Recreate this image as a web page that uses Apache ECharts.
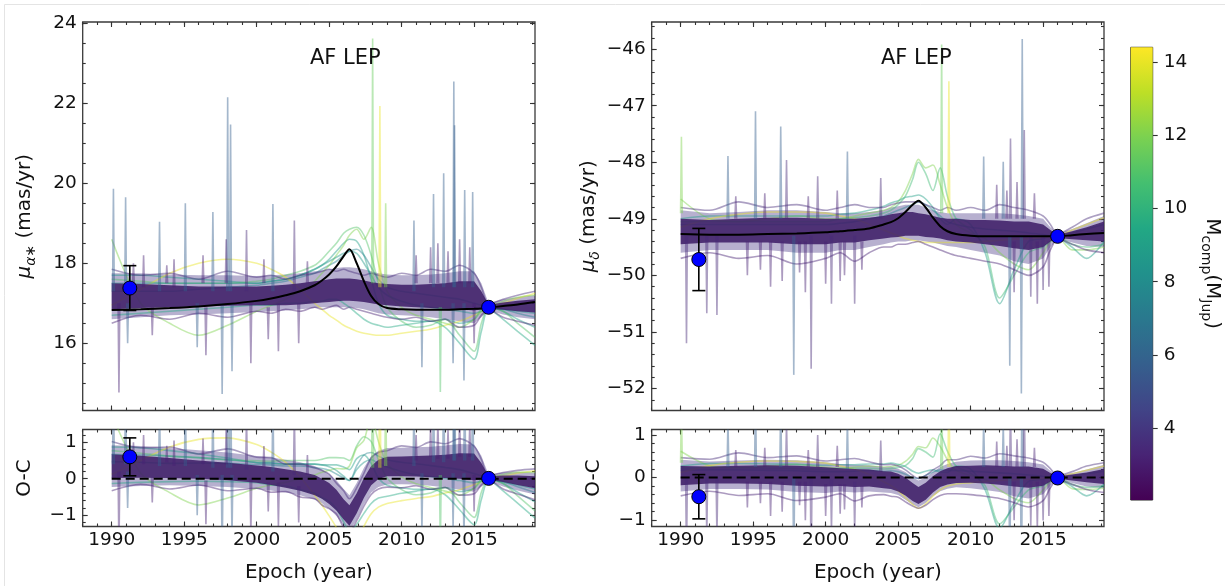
<!DOCTYPE html>
<html><head><meta charset="utf-8">
<script src="https://cdn.jsdelivr.net/npm/echarts@6/dist/echarts.min.js"></script>
<style>html,body{margin:0;padding:0;background:#fff}#c{width:1225px;height:586px}</style>
</head><body><div id="c"></div>
<script>
// ================= DATA =================
const epochs = [1990,1992,1994,1996,1998,2000,2001,2002,2003,2004,2004.5,2005,2005.5,2006,2006.4,2006.9,2007.4,2007.9,2008.4,2009,2010,2011,2012,2013,2014,2015,2015.5,2016,2017,2018,2019.2];

// best-fit model (black curves)
const modelRA  = [16.83,16.85,16.88,16.92,16.98,17.06,17.12,17.2,17.3,17.45,17.57,17.72,17.92,18.18,18.35,18.0,17.55,17.18,16.98,16.88,16.85,16.84,16.84,16.84,16.85,16.86,16.87,16.89,16.93,16.97,17.03];
const modelDec = [-49.27,-49.28,-49.28,-49.27,-49.26,-49.24,-49.22,-49.2,-49.17,-49.1,-49.06,-48.99,-48.88,-48.75,-48.68,-48.8,-48.98,-49.13,-49.22,-49.27,-49.3,-49.31,-49.31,-49.31,-49.31,-49.31,-49.31,-49.31,-49.29,-49.27,-49.25];

// envelope of the dense (low-mass, purple) posterior draws
const raOuterHi = [17.75,17.75,17.72,17.7,17.7,17.68,17.7,17.72,17.75,17.8,17.82,17.85,17.88,17.9,17.9,17.88,17.85,17.8,17.75,17.72,17.7,17.7,17.72,17.75,17.8,17.8,17.5,17.0,17.1,17.15,17.2];
const raOuterLo = [16.6,16.65,16.7,16.72,16.75,16.78,16.8,16.82,16.85,16.88,16.9,16.9,16.9,16.9,16.9,16.88,16.85,16.8,16.75,16.72,16.7,16.68,16.65,16.6,16.55,16.5,16.65,16.82,16.72,16.65,16.6];
const raInnerHi = [17.5,17.48,17.45,17.42,17.42,17.42,17.44,17.46,17.5,17.55,17.57,17.6,17.62,17.62,17.62,17.6,17.57,17.53,17.5,17.48,17.46,17.46,17.48,17.5,17.55,17.55,17.3,16.96,17.02,17.06,17.1];
const raInnerLo = [16.85,16.88,16.9,16.92,16.94,16.95,16.95,16.95,16.97,17.0,17.02,17.03,17.05,17.06,17.06,17.05,17.03,17.0,16.97,16.95,16.92,16.9,16.88,16.86,16.85,16.82,16.85,16.86,16.84,16.8,16.77];

const decOuterHi = [-48.85,-48.9,-48.88,-48.85,-48.85,-48.88,-48.9,-48.9,-48.88,-48.85,-48.8,-48.78,-48.75,-48.75,-48.75,-48.8,-48.85,-48.88,-48.9,-48.9,-48.9,-48.9,-48.9,-48.92,-48.95,-49.0,-49.15,-49.27,-49.18,-49.08,-48.95];
const decOuterLo = [-49.6,-49.55,-49.55,-49.55,-49.6,-49.6,-49.55,-49.55,-49.5,-49.45,-49.42,-49.4,-49.4,-49.38,-49.38,-49.4,-49.42,-49.45,-49.48,-49.5,-49.55,-49.6,-49.65,-49.75,-49.8,-49.7,-49.5,-49.36,-49.42,-49.48,-49.5];
const decInnerHi = [-49.0,-49.02,-49.0,-48.98,-48.98,-49.0,-49.0,-49.0,-48.98,-48.95,-48.92,-48.9,-48.88,-48.88,-48.9,-48.92,-48.95,-48.98,-49.0,-49.0,-49.02,-49.02,-49.03,-49.05,-49.05,-49.1,-49.2,-49.28,-49.22,-49.15,-49.05];
const decInnerLo = [-49.45,-49.42,-49.42,-49.42,-49.45,-49.45,-49.42,-49.42,-49.38,-49.35,-49.33,-49.32,-49.3,-49.3,-49.3,-49.32,-49.33,-49.35,-49.38,-49.4,-49.42,-49.45,-49.48,-49.52,-49.55,-49.5,-49.4,-49.34,-49.36,-49.38,-49.4];

// individual draws (mu_alpha*)
const raTeal       = [17.7,17.7,17.65,17.6,17.55,17.5,17.55,17.6,17.7,17.85,17.95,18.1,18.3,18.5,18.6,18.55,18.2,17.6,17.0,16.7,16.6,16.55,16.55,16.6,16.5,16.6,16.85,16.9,16.8,16.6,16.4];
const raGreen      = [17.6,17.55,17.5,17.5,17.5,17.55,17.6,17.7,17.8,17.95,18.1,18.3,18.5,18.75,18.85,18.9,18.7,18.2,17.5,16.9,16.55,16.4,16.45,16.6,16.2,15.8,16.5,16.88,16.8,16.5,16.15];
const raTealBlue   = [17.3,17.3,17.3,17.35,17.4,17.45,17.5,17.55,17.65,17.75,17.85,17.95,18.05,18.2,18.3,18.35,18.2,17.9,17.6,17.4,17.3,17.25,17.2,17.15,17.1,17.0,16.95,16.9,16.85,16.75,16.65];
const raYellow     = [16.95,17.35,17.75,18.0,18.1,18.0,17.85,17.65,17.35,17.0,16.85,16.7,16.58,16.45,16.38,16.3,16.25,16.22,16.2,16.2,16.25,16.3,16.35,16.45,16.55,16.7,16.8,16.9,17.0,17.12,17.25];
const raLightGreen = [18.6,17.0,16.5,16.2,16.45,16.8,16.95,17.1,17.3,17.55,17.75,17.95,18.2,18.45,18.7,18.85,18.6,18.9,18.0,17.3,16.9,16.7,16.6,16.5,16.4,16.6,16.8,16.9,17.05,17.15,17.2];
const raTealLow    = [16.7,16.75,16.8,16.85,16.9,16.95,16.95,17.0,17.0,17.05,17.05,17.1,17.1,17.0,16.9,16.75,16.6,16.5,16.45,16.4,16.45,16.5,16.55,16.4,16.0,15.6,16.3,16.85,16.6,16.3,15.95];
const raTeal2      = [17.5,17.5,17.5,17.5,17.5,17.5,17.55,17.6,17.7,17.85,17.95,18.05,18.15,18.25,18.3,18.25,18.0,17.7,17.4,17.2,17.05,16.95,16.9,16.85,16.8,16.75,16.8,16.88,16.85,16.8,16.75];
const raPurpleA    = [17.85,17.7,17.75,17.6,17.8,17.65,17.7,17.6,17.7,17.75,17.8,17.85,17.8,17.85,17.8,17.75,17.7,17.75,17.7,17.65,17.75,17.7,17.85,17.8,17.95,17.75,17.4,16.98,17.1,17.2,17.3];
const raPurpleB    = [16.5,16.7,16.6,16.75,16.65,16.8,16.75,16.85,16.8,16.9,16.85,16.9,16.95,16.85,16.9,16.85,16.8,16.75,16.7,16.65,16.6,16.65,16.55,16.6,16.4,16.45,16.7,16.84,16.65,16.55,16.45];
const raLineMass   = [9, 11, 7.5, 14, 12, 9.5, 8.5, 3.6, 3.2];

// individual draws (mu_delta)
const decLightGreen = [-48.65,-49.0,-49.05,-49.0,-48.95,-49.0,-49.0,-48.95,-48.9,-48.85,-48.8,-48.7,-48.5,-48.2,-47.95,-48.1,-48.05,-48.4,-48.8,-49.1,-49.25,-49.35,-49.6,-49.8,-49.9,-49.6,-49.4,-49.33,-49.55,-49.55,-49.5];
const decTeal       = [-49.0,-48.95,-48.95,-48.95,-48.95,-48.95,-48.92,-48.9,-48.85,-48.78,-48.72,-48.68,-48.62,-48.6,-48.58,-48.65,-48.8,-49.0,-49.1,-49.0,-49.1,-49.6,-50.5,-49.9,-49.4,-49.35,-49.3,-49.32,-49.5,-49.7,-49.4];
const decTealBlue   = [-49.1,-49.1,-49.1,-49.1,-49.1,-49.1,-49.08,-49.05,-49.0,-48.95,-48.9,-48.85,-48.8,-48.75,-48.7,-48.75,-48.85,-48.95,-49.05,-49.1,-49.15,-49.18,-49.2,-49.22,-49.25,-49.28,-49.3,-49.3,-49.25,-49.18,-49.1];
const decYellow     = [-49.15,-49.0,-48.92,-48.88,-48.88,-48.9,-48.95,-49.0,-49.1,-49.2,-49.25,-49.3,-49.35,-49.38,-49.4,-49.42,-49.42,-49.42,-49.42,-49.42,-49.42,-49.4,-49.38,-49.36,-49.35,-49.33,-49.32,-49.31,-49.2,-49.1,-48.98];
const decGreen      = [-49.05,-49.05,-49.05,-49.05,-49.05,-49.05,-49.0,-48.98,-48.95,-48.9,-48.85,-48.75,-48.6,-48.3,-48.0,-48.2,-48.5,-48.1,-48.6,-49.0,-49.2,-49.5,-50.4,-50.0,-49.6,-49.5,-49.4,-49.32,-49.45,-49.5,-49.45];
const decPurpleA    = [-48.8,-48.85,-48.7,-48.8,-48.75,-48.85,-48.8,-48.75,-48.8,-48.8,-48.75,-48.72,-48.7,-48.7,-48.7,-48.75,-48.8,-48.85,-48.8,-48.85,-48.8,-48.85,-48.75,-48.8,-48.85,-48.95,-49.1,-49.27,-49.15,-49.0,-48.9];
const decPurpleB    = [-49.7,-49.6,-49.7,-49.65,-49.8,-49.7,-49.6,-49.75,-49.6,-49.5,-49.5,-49.45,-49.45,-49.42,-49.4,-49.45,-49.5,-49.55,-49.6,-49.65,-49.7,-49.75,-49.8,-49.9,-50.0,-49.85,-49.55,-49.36,-49.45,-49.55,-49.6];
const decLineMass   = [12, 9, 7.5, 14, 10.5, 3.6, 3.2];

// narrow excursions (periastron spikes): [epoch, base, extreme, mass, O-C base]
const spikesRA = [
 [1990.12,17.3,19.86,5.8,0.4],[1990.5,17.0,14.77,3.2,0.2],[1990.96,17.3,19.65,5.8,0.4],[1991.1,17.0,16.0,5.8,0.2],
 [1993.3,17.3,19.04,5.8,0.35],[1995.08,17.3,19.5,5.8,0.35],[1995.9,17.0,15.9,5.8,0.1],[1996.98,17.3,19.28,5.8,0.3],
 [1997.62,17.0,14.73,5.8,0.1],[1998.0,17.3,22.15,5.8,0.3],[1998.2,17.3,21.47,5.8,0.3],[1998.3,17.0,15.3,5.8,0.1],
 [1999.3,17.3,18.83,3.5,0.25],[1999.6,17.0,15.5,3.2,0.0],[2001.12,17.3,19.48,5.8,0.2],[2001.5,17.0,15.8,3.2,-0.1],
 [2002.6,17.3,19.07,3.5,0.1],[2002.9,17.0,16.0,3.2,-0.2],[2008.0,17.5,23.62,11.5,0.3],[2008.5,17.4,21.93,14,0.3],
 [2008.9,17.4,19.5,12,0.35],[2010.85,17.3,19.07,5.8,0.35],[2011.4,17.0,15.4,5.8,0.15],[2012.2,17.4,19.73,5.8,0.45],
 [2012.67,16.9,14.78,11,0.1],[2012.9,17.4,20.25,5.8,0.45],[2013.55,17.0,15.5,5.8,0.15],[2013.6,17.4,22.54,5.8,0.5],
 [2013.65,17.4,21.45,5.8,0.5],[2014.3,17.0,15.07,5.8,0.15],[2014.35,17.4,19.83,5.8,0.5],[2014.9,17.4,19.78,5.8,0.5],
 [2015.0,17.0,16.0,3.2,0.1],[1992.2,17.4,18.2,3.2,0.4],[1994.3,17.4,18.1,3.2,0.35],[2012.0,17.5,18.4,3.2,0.6],[2014.0,17.5,18.6,3.2,0.6],
 [1991.5,17.5,18.0,3.2,0.5],[1993.8,17.5,17.95,3.2,0.45],[1996.3,17.5,18.2,3.2,0.4],[1997.9,17.5,18.6,3.2,0.4],[2000.5,17.5,18.1,3.2,0.3],
 [2003.5,17.5,18.05,3.2,0.1],[2011.0,17.5,18.2,3.2,0.5],[2012.5,17.5,18.5,3.2,0.55],[2013.2,17.5,18.3,3.2,0.55],[2014.7,17.5,18.4,3.2,0.6],
 [1992.8,16.9,16.2,3.2,0.05],[1996.5,16.9,15.7,3.2,-0.05],[2000.8,16.9,16.1,3.2,-0.1]
];
const spikesDec = [
 [1990.05,-48.9,-47.55,12,0.35],[1990.4,-49.3,-51.2,3.5,0.0],[1991.8,-49.3,-50.67,3.5,0.0],[1992.5,-49.3,-50.7,3.5,0.0],
 [1993.26,-49.0,-47.89,5.8,0.25],[1995.16,-49.0,-47.1,5.8,0.25],[1996.9,-49.0,-47.37,5.8,0.25],[1997.3,-49.0,-47.96,3.5,0.25],
 [1997.8,-49.3,-51.76,5.8,0.0],[1999.0,-49.3,-51.65,3.5,0.0],[1999.45,-49.0,-48.25,3.5,0.25],[2000.4,-49.3,-50.5,3.5,-0.05],
 [2001.5,-49.0,-47.81,5.8,0.2],[2002.0,-49.3,-50.5,3.5,-0.1],[2003.8,-49.0,-48.28,3.5,0.15],[2008.0,-48.9,-45.92,11.5,0.2],
 [2008.5,-48.9,-46.57,14,0.25],[2010.9,-49.0,-47.9,5.8,0.25],[2012.25,-49.0,-47.99,5.8,0.25],[2012.7,-49.3,-51.6,5.8,0.0],
 [2012.75,-49.0,-47.58,3.5,0.25],[2013.5,-49.3,-52.09,5.8,0.0],[2013.56,-49.0,-45.82,5.8,0.25],[2013.7,-49.0,-47.43,3.5,0.25],
 [2014.15,-49.3,-50.38,3.5,-0.05],[2015.0,-49.3,-50.26,3.5,-0.05],[1994.6,-49.4,-50.0,3.2,-0.1],[1996.2,-49.4,-50.2,3.2,-0.1],
 [1998.6,-49.4,-50.3,3.2,-0.1],[2001.0,-49.4,-50.1,3.2,-0.15],[2014.6,-49.4,-50.5,3.2,-0.1],[2011.8,-49.0,-48.4,3.2,0.25],
 [1995.5,-49.4,-49.9,3.2,-0.1],[1997.0,-49.4,-50.1,3.2,-0.1],[1998.2,-49.4,-49.95,3.2,-0.1],[2000.0,-49.4,-50.15,3.2,-0.15],
 [2001.3,-49.4,-50.0,3.2,-0.15],[2002.5,-49.4,-49.9,3.2,-0.2],[2013.0,-49.4,-50.3,3.2,-0.1],[2015.4,-49.4,-50.2,3.2,-0.1],
 [1993.8,-49.0,-48.6,3.2,0.25],[1995.8,-49.0,-48.55,3.2,0.25],[1998.8,-49.0,-48.6,3.2,0.25],[2000.8,-49.0,-48.5,3.2,0.25],
 [2012.5,-49.0,-48.5,3.2,0.25],[2013.2,-49.0,-48.35,3.2,0.25],[2014.4,-49.0,-48.55,3.2,0.25]
];

// measurements: Hipparcos (1991.25) and Gaia (2016.0)
const obsEpochs = [1991.25, 2016.0];
const raObs  = [17.38, 16.90];   const raErr  = [0.56, 0.0];
const decObs = [-49.72, -49.31]; const decErr = [0.55, 0.0];
const raOC   = [0.60, 0.01];     const raOCErr  = [0.52, 0.0];
const decOC  = [-0.45, -0.01];   const decOCErr = [0.52, 0.0];

// axes ticks
const xMajorTicks = [1990,1995,2000,2005,2010,2015];
const raTicks  = [16,18,20,22,24];
const decTicks = [-52,-51,-50,-49,-48,-47,-46];
const ocTicks  = [-1,0,1];
const cbTicks  = [4,6,8,10,12,14];
const CB_MIN = 2.04, CB_MAX = 14.4;
const X_MIN = 1988, X_MAX = 2019.2;

// ================= helpers =================
function range(a, b, s){ const r=[]; for(let v=a; v<=b+1e-9; v+=s) r.push(Math.round(v*1000)/1000); return r; }
const xMinorTicks = range(1988, 2019, 1);
const raMinor  = range(14.5, 24, 0.5);
const decMinor = range(-52.2, -45.6, 0.2);
const ocMinor  = range(-1.2, 1.2, 0.2);

const VIR = ['#440154','#482475','#414487','#355f8d','#2a788e','#21918c','#22a884','#44bf70','#7ad151','#bddf26','#fde725'];
function hex2rgb(h){ return [parseInt(h.slice(1,3),16),parseInt(h.slice(3,5),16),parseInt(h.slice(5,7),16)]; }
function cmap(m){
  let t = (m - CB_MIN)/(CB_MAX - CB_MIN); t = Math.max(0, Math.min(1, t));
  const f = t*10, i = Math.min(9, Math.floor(f)), r = f - i;
  const a = hex2rgb(VIR[i]), b = hex2rgb(VIR[i+1]);
  return 'rgb(' + a.map((v,k)=>Math.round(v + (b[k]-v)*r)).join(',') + ')';
}
function fmt(v){ return (v < 0 ? '\u2212' : '') + Math.abs(v); }
const FONT = 'DejaVu Sans';
const TICKC = '#333';
const LABEL_FS = 18.5;

const grids = [
  {left:82.7, top:22, width:452.3, height:388.5},
  {left:82.7, top:429.5, width:452.3, height:97},
  {left:651.7, top:22, width:452.3, height:388.5},
  {left:651.7, top:429.5, width:452.3, height:97},
  {left:1130.7, top:47.3, width:22, height:452.7}
].map((g,i)=>Object.assign({show:true, backgroundColor:'transparent', borderColor: i===4 ? '#222' : '#3a3a3a', borderWidth: i===4 ? 1 : 1.3, outerBoundsMode:'none', containLabel:false}, g));

const xAxes = [], yAxes = [], xIdx = [], yIdx = [];
function tickAxis(g, pos, min, max, ticks, len, label){
  return {type:'value', gridIndex:g, position:pos, min:min, max:max,
    axisLine:{show:false, onZero:false}, splitLine:{show:false},
    axisTick:{show:true, inside:true, length:len, customValues:ticks, lineStyle:{color:TICKC, width:1.1}},
    axisLabel:{show:!!label, customValues:ticks, formatter:fmt, fontSize:LABEL_FS, color:'#111', fontFamily:FONT, margin:6}};
}
const yNameRich = {
  i:{fontStyle:'italic', fontSize:20, fontFamily:FONT, color:'#111', lineHeight:28},
  s:{fontStyle:'italic', fontSize:14, fontFamily:FONT, color:'#111', lineHeight:28, verticalAlign:'bottom'},
  n:{fontSize:20, fontFamily:FONT, color:'#111', lineHeight:28}
};
function panel(g, yMin, yMax, yMajor, yMinor, bottomLabels, yName){
  xIdx[g] = xAxes.length;
  const xm = tickAxis(g, 'bottom', X_MIN, X_MAX, xMajorTicks, 5, bottomLabels);
  xm.axisLabel.margin = 4;
  if (bottomLabels){ Object.assign(xm, {name:'Epoch (year)', nameLocation:'middle', nameGap:36, nameTextStyle:{fontSize:20, fontFamily:FONT, color:'#111'}}); }
  xAxes.push(xm);
  xAxes.push(tickAxis(g, 'bottom', X_MIN, X_MAX, xMinorTicks, 3, false));
  xAxes.push(tickAxis(g, 'top', X_MIN, X_MAX, xMajorTicks, 5, false));
  xAxes.push(tickAxis(g, 'top', X_MIN, X_MAX, xMinorTicks, 3, false));
  yIdx[g] = yAxes.length;
  const ym = tickAxis(g, 'left', yMin, yMax, yMajor, 5, true);
  Object.assign(ym, {name:yName, nameLocation:'middle', nameGap:44, nameRotate:90, nameTextStyle:{rich:yNameRich, fontSize:20, fontFamily:FONT, color:'#111'}});
  yAxes.push(ym);
  yAxes.push(tickAxis(g, 'left', yMin, yMax, yMinor, 3, false));
  yAxes.push(tickAxis(g, 'right', yMin, yMax, yMajor, 5, false));
  yAxes.push(tickAxis(g, 'right', yMin, yMax, yMinor, 3, false));
}
panel(0, 14.32, 24.03, raTicks, raMinor, false, '{i|μ}{s|α∗}{n| (mas/yr)}');
panel(1, -1.31, 1.35, ocTicks, ocMinor, true, '{n|O-C}');
panel(2, -52.39, -45.52, decTicks, decMinor, false, '{i|μ}{s|δ}{n| (mas/yr)}');
panel(3, -1.15, 1.13, ocTicks, ocMinor, true, '{n|O-C}');

// colorbar axes
xIdx[4] = xAxes.length;
xAxes.push({type:'value', gridIndex:4, min:0, max:1, show:false});
yIdx[4] = yAxes.length;
yAxes.push({type:'value', gridIndex:4, position:'right', min:CB_MIN, max:CB_MAX,
  axisLine:{show:false, onZero:false}, splitLine:{show:false},
  axisTick:{show:true, inside:false, length:5, customValues:cbTicks, lineStyle:{color:TICKC, width:1.1}},
  axisLabel:{show:true, customValues:cbTicks, formatter:fmt, fontSize:LABEL_FS, color:'#111', fontFamily:FONT, margin:11},
  name:'{n|M}{s|comp}{n|(M}{s|Jup}{n|)}', nameLocation:'middle', nameRotate:-90, nameGap:46,
  nameTextStyle:{fontSize:20, fontFamily:FONT, color:'#111', rich:{
    n:{fontSize:20, fontFamily:FONT, color:'#111', lineHeight:28},
    s:{fontSize:14, fontFamily:FONT, color:'#111', lineHeight:28, verticalAlign:'bottom'}}}
});

// ================= series =================
const series = [];
const sub = (arr, model) => arr.map((v,i)=>v - model[i]);

function band(g, lo, hi, color, op, z){
  series.push({type:'custom', xAxisIndex:xIdx[g], yAxisIndex:yIdx[g], clip:true, z:z, silent:true,
    data:[[epochs[0], lo[0]]],
    renderItem:(p, api)=>{
      const pts = [];
      for (let i=0;i<epochs.length;i++) pts.push(api.coord([epochs[i], hi[i]]));
      for (let i=epochs.length-1;i>=0;i--) pts.push(api.coord([epochs[i], lo[i]]));
      return {type:'polygon', shape:{points:pts}, style:{fill:color, opacity:op}};
    }});
}
function line(g, ys, color, width, op, z, smooth, dash){
  series.push({type:'line', xAxisIndex:xIdx[g], yAxisIndex:yIdx[g], silent:true, z:z, symbol:'none',
    smooth:smooth, clip:true, data:epochs.map((x,i)=>[x, ys[i]]),
    lineStyle:{color:color, width:width, opacity:op, type:dash||'solid'}});
}
function spikes(g, items, z){
  series.push({type:'custom', xAxisIndex:xIdx[g], yAxisIndex:yIdx[g], clip:true, z:z, silent:true,
    dimensions:['x','b','t','m'], encode:{x:0, y:[1,2]}, data:items,
    renderItem:(p, api)=>{
      const x = api.value(0), b = api.value(1), t = api.value(2), m = api.value(3);
      const pts = [api.coord([x-0.06, b]), api.coord([x, t]), api.coord([x+0.06, b])];
      return {type:'polyline', shape:{points:pts}, style:{stroke:cmap(m), lineWidth:1.6, opacity:0.45, fill:null}};
    }});
}
function obs(g, xs, ys, errs){
  series.push({type:'custom', xAxisIndex:xIdx[g], yAxisIndex:yIdx[g], z:9, silent:true, clip:false,
    data:xs.map((x,i)=>[x, ys[i], errs[i]]),
    renderItem:(p, api)=>{
      const x = api.value(0), y = api.value(1), e = api.value(2);
      if (!e) return null;
      const a = api.coord([x, y+e]), b = api.coord([x, y-e]);
      const st = {stroke:'#000', lineWidth:1.6};
      return {type:'group', children:[
        {type:'line', shape:{x1:a[0], y1:a[1], x2:b[0], y2:b[1]}, style:st},
        {type:'line', shape:{x1:a[0]-6.5, y1:a[1], x2:a[0]+6.5, y2:a[1]}, style:st},
        {type:'line', shape:{x1:b[0]-6.5, y1:b[1], x2:b[0]+6.5, y2:b[1]}, style:st}]};
    }});
  series.push({type:'scatter', xAxisIndex:xIdx[g], yAxisIndex:yIdx[g], z:10, silent:true,
    data:xs.map((x,i)=>[x, ys[i]]), symbolSize:14,
    itemStyle:{color:'#0000ff', borderColor:'#000', borderWidth:1, opacity:1}});
}

const raLines  = [raTeal, raGreen, raTealBlue, raYellow, raLightGreen, raTealLow, raTeal2, raPurpleA, raPurpleB];
const decLines = [decLightGreen, decTeal, decTealBlue, decYellow, decGreen, decPurpleA, decPurpleB];

function fillPanels(gTop, gOC, model, oLo, oHi, iLo, iHi, lines, masses, spk, obsY, obsE, ocY, ocE){
  // top panel
  band(gTop, oLo, oHi, '#4b3a86', 0.4, 1);
  lines.forEach((l,k)=>line(gTop, l, cmap(masses[k]), 1.6, 0.45, 2, 0.3));
  band(gTop, iLo, iHi, '#3d1c66', 0.86, 3);
  spikes(gTop, spk.map(s=>[s[0], s[1], s[2], s[3]]), 4);
  line(gTop, model, '#000', 2, 1, 6, 0.3);
  obs(gTop, obsEpochs, obsY, obsE);
  // O-C panel
  band(gOC, sub(oLo, model), sub(oHi, model), '#4b3a86', 0.4, 1);
  lines.forEach((l,k)=>line(gOC, sub(l, model), cmap(masses[k]), 1.6, 0.45, 2, 0.3));
  band(gOC, sub(iLo, model), sub(iHi, model), '#3d1c66', 0.86, 3);
  spikes(gOC, spk.map(s=>[s[0], s[4], s[4] + (s[2]-s[1]), s[3]]), 4);
  series.push({type:'line', xAxisIndex:xIdx[gOC], yAxisIndex:yIdx[gOC], z:6, silent:true, symbol:'none',
    data:[[epochs[0],0],[epochs[epochs.length-1],0]], lineStyle:{color:'#000', width:2, type:[9,5]}});
  obs(gOC, obsEpochs, ocY, ocE);
}
fillPanels(0, 1, modelRA, raOuterLo, raOuterHi, raInnerLo, raInnerHi, raLines, raLineMass, spikesRA, raObs, raErr, raOC, raOCErr);
fillPanels(2, 3, modelDec, decOuterLo, decOuterHi, decInnerLo, decInnerHi, decLines, decLineMass, spikesDec, decObs, decErr, decOC, decOCErr);

// colorbar gradient
series.push({type:'custom', xAxisIndex:xIdx[4], yAxisIndex:yIdx[4], silent:true, z:1,
  data:[[0, CB_MIN]],
  renderItem:(p, api)=>{
    const a = api.coord([0, CB_MAX]), b = api.coord([1, CB_MIN]);
    const stops = VIR.map((c,i)=>({offset:1 - i/10, color:c})).reverse();
    return {type:'rect', shape:{x:a[0], y:a[1], width:b[0]-a[0], height:b[1]-a[1]},
      style:{fill:new echarts.graphic.LinearGradient(0,0,0,1, stops)}};
  }});

const chart = echarts.init(document.getElementById('c'), null, {renderer:'canvas'});
chart.setOption({
  animation:false,
  backgroundColor:'#fff',
  title:[
    {text:'AF LEP', left:305, top:43, textStyle:{fontSize:21, fontWeight:'normal', color:'#111', fontFamily:FONT}},
    {text:'AF LEP', left:876, top:43, textStyle:{fontSize:21, fontWeight:'normal', color:'#111', fontFamily:FONT}}
  ],
  graphic:[{type:'rect', shape:{x:4.5, y:4.5, width:1300, height:700}, style:{fill:null, stroke:'#e4e4e4', lineWidth:1}, silent:true, z:-1}],
  grid:grids, xAxis:xAxes, yAxis:yAxes, series:series
});
</script></body></html>
